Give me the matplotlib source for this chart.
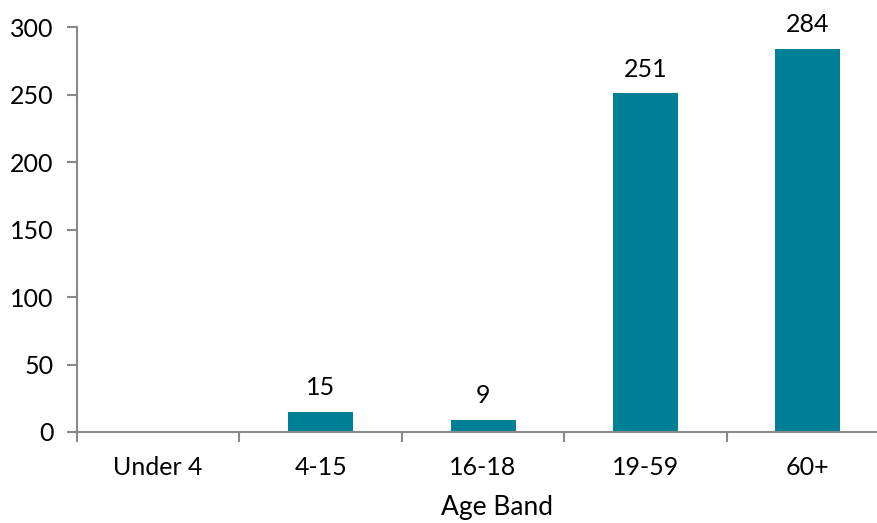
import matplotlib.pyplot as plt

bands = ['Under 4', '4-15', '16-18', '19-59', '60+']
counts = [0, 15, 9, 251, 284]

plt.rcParams['font.family'] = ['Lato', 'DejaVu Sans']

fig = plt.figure(figsize=(8.78, 5.23), dpi=100)
# the plot area runs slightly past the right edge of the canvas
ax = fig.add_axes([0.0877, 0.174, 0.925, 0.774])

x = list(range(len(bands)))
bars = ax.bar(x, counts, width=0.4, color='#008097', zorder=2)
for rect, v in zip(bars, counts):
    if v > 0:
        ax.annotate(str(v), (rect.get_x() + rect.get_width() / 2, v),
                    xytext=(0, 9), textcoords='offset points',
                    ha='center', va='bottom', fontsize=18)

ax.set_xlim(-0.5, len(bands) - 0.5)
ax.set_ylim(0, 300)
ax.set_yticks(range(0, 301, 50))
ax.set_xticks(x)
ax.set_xticklabels(bands)
ax.set_xticks([i - 0.5 for i in range(len(bands) + 1)], minor=True)
ax.tick_params(axis='x', which='major', length=0, pad=17, labelsize=18)
ax.tick_params(axis='x', which='minor', length=7, width=1.5, color='#898989')
ax.tick_params(axis='y', length=7, width=1.5, color='#898989', pad=10, labelsize=18)
ax.set_xlabel('Age Band', fontsize=19)
ax.xaxis.set_label_coords(0.517, -0.155)

for side in ['top', 'right']:
    ax.spines[side].set_visible(False)
for side in ['left', 'bottom']:
    ax.spines[side].set_color('#898989')
    ax.spines[side].set_linewidth(1.5)

fig.savefig('out.png', dpi=100)
